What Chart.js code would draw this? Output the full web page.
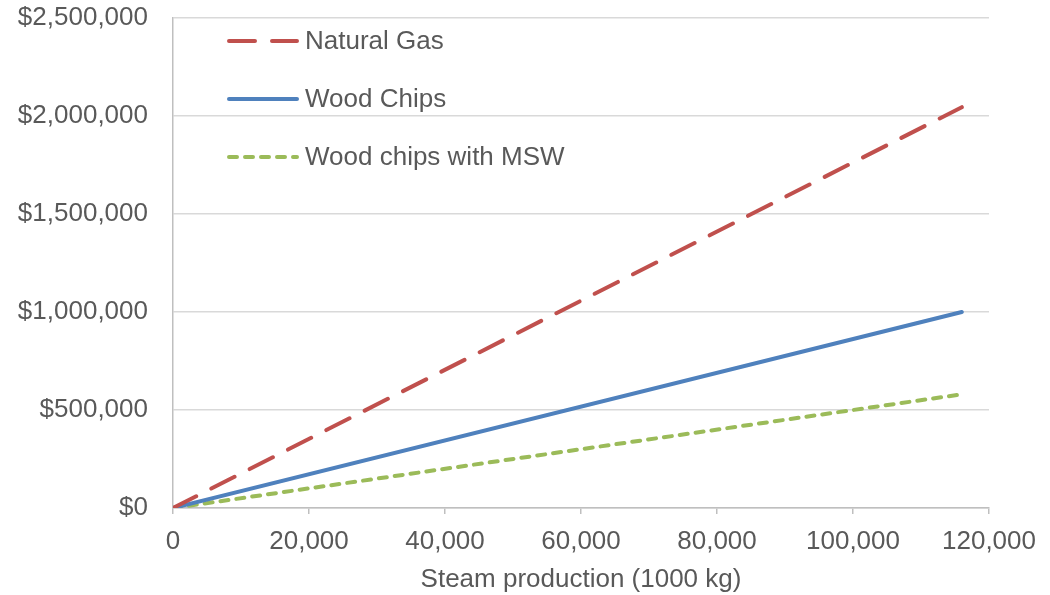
<!DOCTYPE html>
<html>
<head>
<meta charset="utf-8">
<script src="https://cdn.jsdelivr.net/npm/chart.js@4/dist/chart.umd.min.js"></script>
<style>
  html, body { margin: 0; padding: 0; background: #fff; }
  #wrap { width: 1050px; height: 595px; position: relative; }
</style>
</head>
<body>
<div id="wrap"><canvas id="chart"></canvas></div>
<script>
// steam production (1000 kg) and yearly cost per fuel
const steam = [0, 116000];
const naturalGas = [0, 2045000];
const woodChips = [0, 1000000];
const woodChipsMsw = [0, 580000];
const seriesNames = ['Natural Gas', 'Wood Chips', 'Wood chips with MSW'];
const xTitle = 'Steam production (1000 kg)';

const textColor = '#595959';
const fontFamily = '"Liberation Sans", Arial, sans-serif';

function pts(ys) {
  return steam.map((x, i) => ({ x: x, y: ys[i] }));
}

const datasets = [
  { label: seriesNames[0], data: pts(naturalGas), borderColor: '#C0504D', borderDash: [26, 17], borderCapStyle: 'round' },
  { label: seriesNames[1], data: pts(woodChips), borderColor: '#4F81BD', borderDash: [], borderCapStyle: 'round' },
  { label: seriesNames[2], data: pts(woodChipsMsw), borderColor: '#9BBB59', borderDash: [8, 8], borderCapStyle: 'round' }
].map(d => Object.assign(d, { borderWidth: 4, pointRadius: 0, fill: false, tension: 0 }));

// legend drawn inside the plot, upper left
const insideLegend = {
  id: 'insideLegend',
  afterDraw(chart) {
    const ctx = chart.ctx;
    const a = chart.chartArea;
    ctx.save();
    chart.data.datasets.forEach((ds, i) => {
      const y = a.top + 23 + i * 58;
      ctx.beginPath();
      ctx.strokeStyle = ds.borderColor;
      ctx.lineWidth = 4;
      ctx.lineCap = 'round';
      ctx.setLineDash(ds.borderDash);
      ctx.moveTo(a.left + 56, y);
      ctx.lineTo(a.left + 124, y);
      ctx.stroke();
      ctx.setLineDash([]);
      ctx.fillStyle = textColor;
      ctx.font = '26px ' + fontFamily;
      ctx.textBaseline = 'middle';
      ctx.textAlign = 'left';
      ctx.fillText(ds.label, a.left + 132, y + 1);
    });
    ctx.restore();
  }
};

new Chart(document.getElementById('chart'), {
  type: 'line',
  data: { datasets: datasets },
  options: {
    responsive: true,
    maintainAspectRatio: false,
    animation: false,
    layout: { padding: { top: 18, right: 61, left: 0, bottom: 0 } },
    plugins: { legend: { display: false }, tooltip: { enabled: false } },
    scales: {
      x: {
        type: 'linear',
        min: 0,
        max: 120000,
        afterFit(s) { s.height = 87; },
        ticks: {
          stepSize: 20000,
          color: textColor,
          font: { family: fontFamily, size: 26 },
          padding: 12,
          maxRotation: 0,
          callback: v => v.toLocaleString('en-US')
        },
        grid: { drawOnChartArea: false, drawTicks: true, tickLength: 6, color: '#BFBFBF', lineWidth: 1.5 },
        border: { color: '#BFBFBF', width: 1.5 },
        title: {
          display: true,
          text: xTitle,
          color: textColor,
          font: { family: fontFamily, size: 26 },
          padding: { top: 0, bottom: 0 }
        }
      },
      y: {
        min: 0,
        max: 2500000,
        afterFit(s) { s.width = 173; s.paddingTop = 0; s.paddingBottom = 0; },
        ticks: {
          stepSize: 500000,
          color: textColor,
          font: { family: fontFamily, size: 26 },
          padding: 25,
          callback: v => '$' + v.toLocaleString('en-US')
        },
        grid: { drawTicks: false, color: '#D9D9D9', lineWidth: 1.5 },
        border: { color: '#BFBFBF', width: 1.5 }
      }
    }
  },
  plugins: [insideLegend]
});
</script>
</body>
</html>
